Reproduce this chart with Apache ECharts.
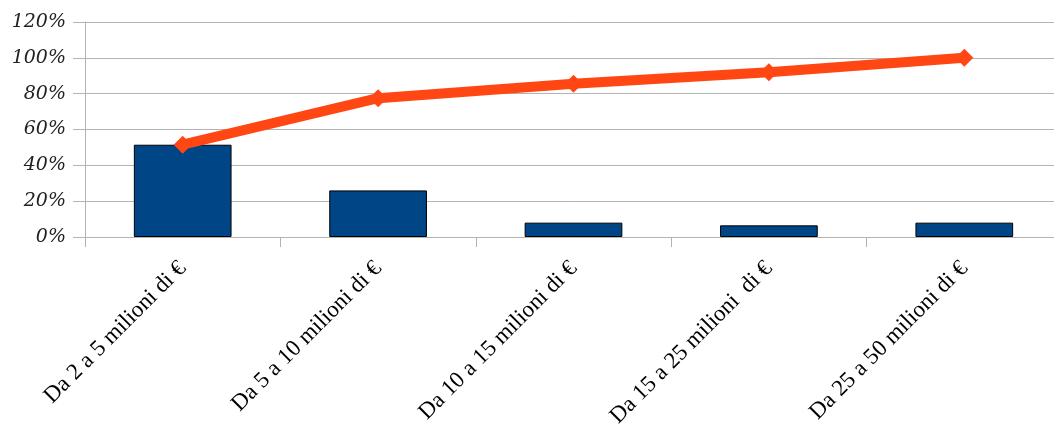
<!DOCTYPE html>
<html>
<head>
<meta charset="utf-8">
<style>
  html, body { margin: 0; padding: 0; background: #ffffff; overflow: hidden; }
  /* the plot runs slightly past the right edge of the page */
  #chart { width: 1062px; height: 432px; }
</style>
<script src="https://cdn.jsdelivr.net/npm/echarts@6/dist/echarts.min.js"></script>
</head>
<body>
<div id="chart"></div>
<script>
// Fasce di fatturato
const categories = [
  'Da 2 a 5 milioni di €',
  'Da 5 a 10 milioni di €',
  'Da 10 a 15 milioni di €',
  'Da 15 a 25 milioni  di €',
  'Da 25 a 50 milioni di €'
];
// Quota per fascia (%)
const shareValues = [51.5, 26, 8, 6.5, 8];
// Quota cumulata (%)
const cumulativeValues = [51.5, 77.5, 85.5, 92, 100];
// Etichette asse Y
const yTicks = [0, 20, 40, 60, 80, 100, 120];

const chart = echarts.init(document.getElementById('chart'), null, { renderer: 'canvas' });

const gridColor = '#b3b3b3';

chart.setOption({
  animation: false,
  backgroundColor: '#ffffff',
  grid: { left: 85, top: 22, right: 0, height: 215, containLabel: false },
  xAxis: {
    type: 'category',
    data: categories,
    boundaryGap: true,
    axisLine: { show: true, lineStyle: { color: gridColor, width: 1 } },
    axisTick: { show: true, alignWithLabel: false, length: 10, lineStyle: { color: gridColor, width: 1 } },
    axisLabel: {
      interval: 0,
      rotate: 45,
      margin: 28,
      color: '#000000',
      fontFamily: 'Liberation Serif',
      fontSize: 23
    },
    splitLine: { show: false }
  },
  yAxis: {
    type: 'value',
    min: yTicks[0],
    max: yTicks[yTicks.length - 1],
    interval: 20,
    axisLine: { show: true, lineStyle: { color: gridColor, width: 1 } },
    axisTick: { show: true, length: 12, lineStyle: { color: gridColor, width: 1 } },
    axisLabel: {
      margin: 19,
      color: '#222222',
      fontFamily: 'DejaVu Serif',
      fontStyle: 'italic',
      fontSize: 19,
      formatter: v => v + '%'
    },
    splitLine: { show: true, lineStyle: { color: gridColor, width: 1 } }
  },
  series: [
    {
      name: 'Quota',
      type: 'bar',
      data: shareValues,
      barWidth: '50%',
      itemStyle: { color: '#004586', borderColor: '#000000', borderWidth: 1 }
    },
    {
      name: 'Cumulata',
      type: 'line',
      data: cumulativeValues,
      symbol: 'diamond',
      symbolSize: 18,
      lineStyle: { color: '#ff4613', width: 10 },
      itemStyle: { color: '#ff4613' },
      z: 5
    }
  ]
});
</script>
</body>
</html>
